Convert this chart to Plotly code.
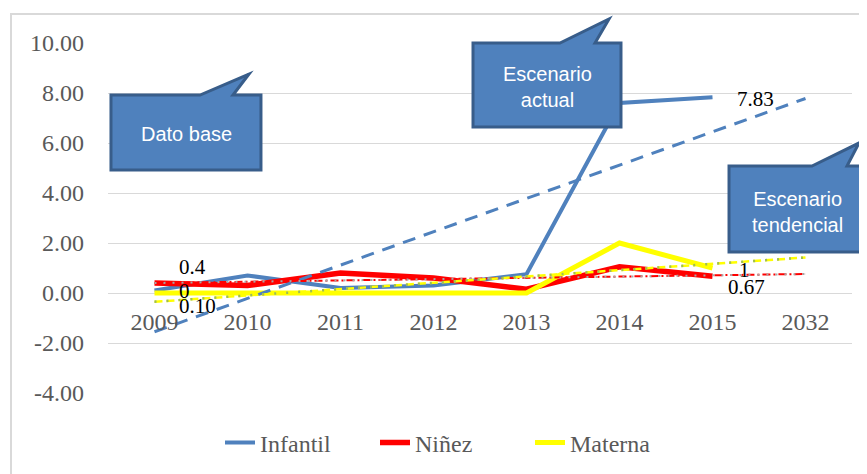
import plotly.graph_objects as go

# categories and series values
years = ['2009', '2010', '2011', '2012', '2013', '2014', '2015', '2032']
infantil = [0.10, 0.70, 0.20, 0.30, 0.75, 7.60, 7.83, None]
ninez = [0.40, 0.30, 0.80, 0.60, 0.15, 1.05, 0.67, None]
materna = [0.0, 0.0, 0.0, 0.0, 0.0, 2.00, 1.00, None]

# linear trend lines (start 2009, end 2032)
trend_years = ['2009', '2032']
infantil_trend = [-1.55, 7.78]
ninez_trend = [0.40, 0.76]
materna_trend = [-0.35, 1.42]

y_ticks = [-4, -2, 0, 2, 4, 6, 8, 10]
y_ticktext = ['-4.00', '-2.00', '0.00', '2.00', '4.00', '6.00', '8.00', '10.00']

W, H = 867, 474
OFF = 8  # page body margin
L, R, T, B = 108, 852, 43, 393  # plot area in screen pixels


def px_x(x):
    return (x - L) / (R - L)


def px_y(y):
    return (B - y) / (B - T)


def callout(x0, y0, x1, y1, t0, tip, t1):
    # rectangle with a speech tail on the top edge (pixel coords -> paper)
    pts = [(x0, y0), (t0, y0), tip, (t1, y0), (x1, y0), (x1, y1), (x0, y1)]
    d = 'M ' + ' L '.join(f'{px_x(a):.4f},{px_y(b):.4f}' for a, b in pts) + ' Z'
    return dict(type='path', path=d, xref='paper', yref='paper',
                fillcolor='#4F81BD', line=dict(color='#385D8A', width=3),
                layer='above')


serif = 'Liberation Serif, Cambria, serif'
sans = 'Liberation Sans, Arial, sans-serif'

fig = go.Figure()

fig.add_trace(go.Scatter(x=years, y=infantil, name='Infantil', mode='lines',
                         line=dict(color='#4F81BD', width=4)))
fig.add_trace(go.Scatter(x=years, y=ninez, name='Niñez', mode='lines',
                         line=dict(color='#FF0000', width=5.5)))
fig.add_trace(go.Scatter(x=years, y=materna, name='Materna', mode='lines',
                         line=dict(color='#FFFF00', width=5)))

# trend lines
fig.add_trace(go.Scatter(x=trend_years, y=infantil_trend, mode='lines', showlegend=False,
                         line=dict(color='#4F81BD', width=3, dash='13px,9px')))
fig.add_trace(go.Scatter(x=trend_years, y=ninez_trend, mode='lines', showlegend=False,
                         line=dict(color='#FF0000', width=2, dash='8px,3px,2px,3px')))
fig.add_trace(go.Scatter(x=trend_years, y=ninez_trend, mode='lines', showlegend=False,
                         line=dict(color='#A6A6A6', width=2, dash='2px,7px')))
fig.add_trace(go.Scatter(x=trend_years, y=materna_trend, mode='lines', showlegend=False,
                         line=dict(color='#FFFF00', width=2.5, dash='8px,4px')))
fig.add_trace(go.Scatter(x=trend_years, y=materna_trend, mode='lines', showlegend=False,
                         line=dict(color='#9BBB59', width=2.5, dash='2px,10px')))

# data labels (x given as category index)
labels = [
    ('0.4', 0, ninez[0], 22, 16),
    ('0', 0, materna[0], 22, 2),
    ('0.10', 0, infantil[0], 22, -15),
    ('7.83', 6, infantil[6], 22, -2),
    ('1', 6, materna[6], 24, -2),
    ('0.67', 6, ninez[6], 13, -11),
]
for text, xi, y, dx, dy in labels:
    fig.add_annotation(x=xi, y=y, text=text, showarrow=False, xanchor='left',
                       xshift=dx, yshift=dy, font=dict(family=serif, size=21, color='black'))

# callouts
fig.add_shape(callout(111, 95, 261, 170, 200, (249, 74), 233))
fig.add_shape(callout(473, 43, 621, 127, 560, (609, 19), 595))
fig.add_shape(callout(729, 166, 866, 252, 812, (859, 143), 847))

for text, x, y in [('Dato base', 186, 134),
                   ('Escenario<br>actual', 547, 87),
                   ('Escenario<br>tendencial', 797, 212)]:
    fig.add_annotation(x=px_x(x), y=px_y(y), xref='paper', yref='paper', text=text,
                       xanchor='center', yanchor='middle', showarrow=False,
                       font=dict(family=sans, size=20, color='white'))

# outer chart border
fig.add_shape(type='rect', xref='paper', yref='paper', x0=px_x(11), y0=px_y(14),
              x1=px_x(880), y1=px_y(490), line=dict(color='#D9D9D9', width=2), layer='below')

fig.update_layout(
    width=W, height=H,
    margin=dict(l=L - OFF, r=W - (R - OFF), t=T - OFF, b=H - (B - OFF), autoexpand=False),
    paper_bgcolor='white', plot_bgcolor='white',
    font=dict(family=serif, size=24, color='#595959'),
    showlegend=True,
    legend=dict(orientation='h', x=px_x(220), y=px_y(443), xanchor='left', yanchor='middle',
                font=dict(family=serif, size=24, color='#595959'), entrywidth=110),
    xaxis=dict(type='category', categoryorder='array', categoryarray=years,
               range=[-0.5, 7.5], automargin=False,
               anchor='free', position=px_y(293), showgrid=False, zeroline=False,
               showline=False, ticks='', ticklabelstandoff=12,
               tickfont=dict(family=serif, size=24, color='#595959')),
    yaxis=dict(range=[-4, 10], tickvals=y_ticks, ticktext=y_ticktext, automargin=False,
               showgrid=True, gridcolor='#D9D9D9', gridwidth=1.3,
               zeroline=True, zerolinecolor='#D9D9D9', zerolinewidth=1.3,
               showline=False, ticks='', ticklabelstandoff=23,
               tickfont=dict(family=serif, size=24, color='#595959')),
)

fig.write_html('out.html')
